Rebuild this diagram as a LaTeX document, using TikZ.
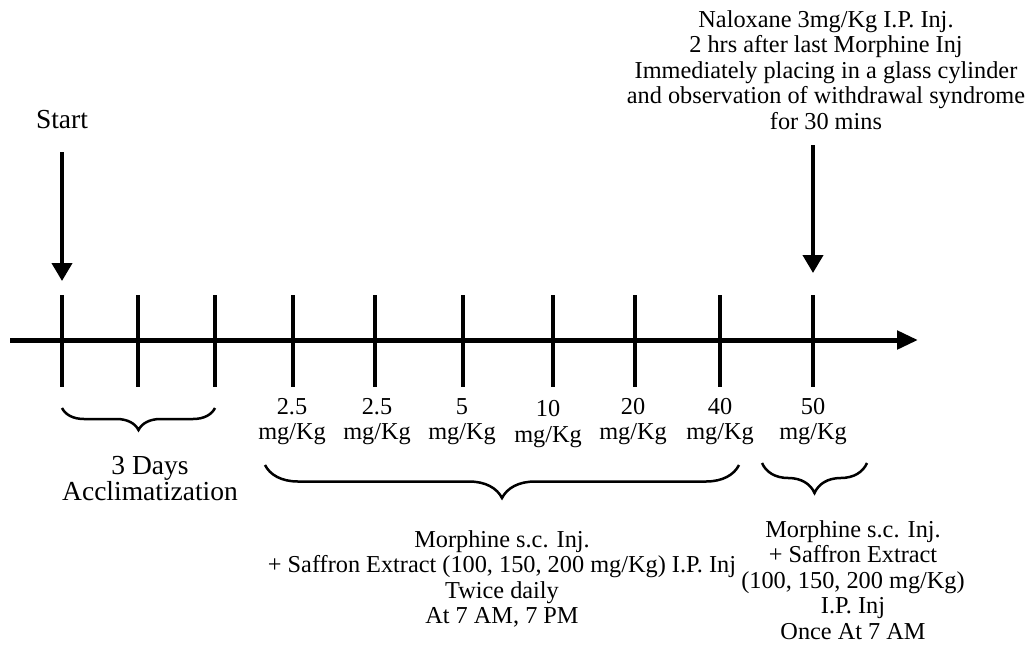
\documentclass[tikz,border=0pt]{standalone}
\usepackage{fontspec}
\setmainfont{Liberation Serif}
\usetikzlibrary{arrows.meta,decorations.pathreplacing}
\begin{document}
\begin{tikzpicture}[x=1pt,y=-1pt,
  txt/.style={font=\fontsize{24.3}{25.5}\selectfont, align=center, inner sep=0pt},
  bigtxt/.style={font=\fontsize{27.5}{26}\selectfont, align=center, inner sep=0pt},
  tickline/.style={line width=3.2pt},
  axisline/.style={line width=5pt,-{Triangle[length=21pt,width=18pt]}},
  downarrow/.style={line width=4pt,-{Triangle[length=18pt,width=20pt]}},
  bracestyle/.style={line width=2.5pt,decorate,decoration={brace,mirror,amplitude=#1}}]
\useasboundingbox (0,0) rectangle (1027,646);

% axis
\coordinate (axL) at (10,340);
\coordinate (axR) at (918,340);
\draw[axisline] (axL) -- (axR);

% ticks
\foreach \i/\x in {0/62,1/138,2/215,3/293,4/375,5/463,6/553,7/635,8/720,9/813}{
  \coordinate (tt\i) at (\x,295);
  \coordinate (tb\i) at (\x,387);
  \draw[tickline] (tt\i) -- (tb\i);
}

% dose labels
\node[txt] (d3) at (292,421.5) {2.5\\mg/Kg};
\node[txt] (d4) at (377,421.5) {2.5\\mg/Kg};
\node[txt] (d5) at (462,421.5) {5\\mg/Kg};
\node[txt] (d6) at (548,424) {10\\mg/Kg};
\node[txt] (d7) at (633,421.5) {20\\mg/Kg};
\node[txt] (d8) at (720,421.5) {40\\mg/Kg};
\node[txt] (d9) at (813,421.5) {50\\mg/Kg};

% start
\node[bigtxt] (start) at (62,120) {Start};
\coordinate (sa) at (62,152);
\coordinate (sb) at (62,281);
\draw[downarrow] (sa) -- (sb);

% naloxane
\node[txt] (nal) at (826,70) {Naloxane 3mg/Kg I.P. Inj.\\2 hrs after last Morphine Inj\\Immediately placing in a glass cylinder\\and observation of withdrawal syndrome\\for 30 mins};
\coordinate (na) at (813,145);
\coordinate (nb) at (813,273);
\draw[downarrow] (na) -- (nb);

% braces
\coordinate (b1l) at (62,408);
\coordinate (b1r) at (215,408);
\draw[bracestyle=22pt] (b1l) -- (b1r);
\coordinate (b2l) at (265,465);
\coordinate (b2r) at (739,465);
\draw[bracestyle=33pt] (b2l) -- (b2r);
\coordinate (b3l) at (762,463);
\coordinate (b3r) at (867,463);
\draw[bracestyle=30pt] (b3l) -- (b3r);

% brace texts
\node[bigtxt] (accl) at (150,479) {3 Days\\Acclimatization};
\node[txt] (blk2) at (502,579) {Morphine s.c. Inj.\\+ Saffron Extract (100, 150, 200 mg/Kg) I.P. Inj\\Twice daily\\At 7 AM, 7 PM};
\node[txt] (blk3) at (853,580) {Morphine s.c. Inj.\\+ Saffron Extract\\(100, 150, 200 mg/Kg)\\I.P. Inj\\Once At 7 AM};
\end{tikzpicture}
\end{document}
